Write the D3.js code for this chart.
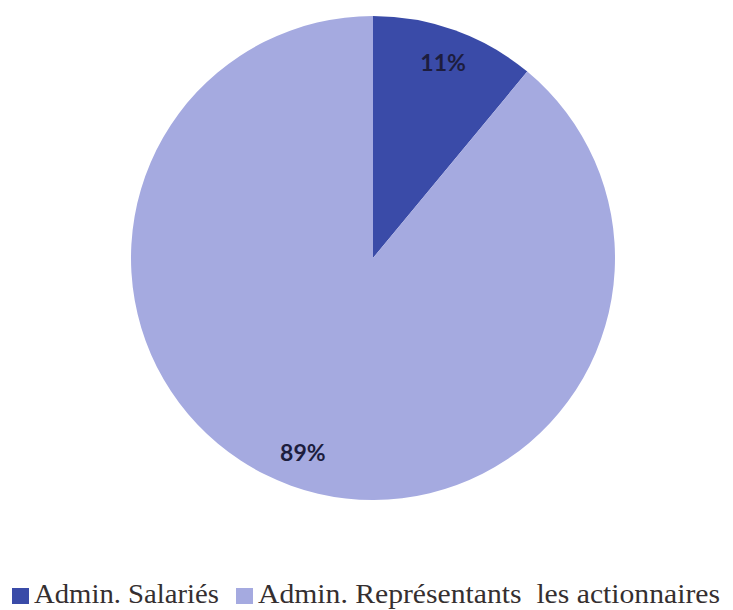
<!DOCTYPE html>
<html>
<head>
<meta charset="utf-8">
<script src="https://cdn.jsdelivr.net/npm/d3@7"></script>
<style>
  body { margin: 0; background: #fff; }
</style>
</head>
<body>
<script>
var svgWidth = 733;
var svgHeight = 610;

var categories = ["Admin. Salariés", "Admin. Représentants  les actionnaires"];
var values = [11, 89];
var labels = ["11%", "89%"];
var colors = ["#3a4ba8", "#a5aae0"];

var cx = 373, cy = 258, radius = 242;

var svg = d3.select("body")
  .append("svg")
  .attr("width", svgWidth)
  .attr("height", svgHeight);

var pieGroup = svg.append("g")
  .attr("transform", `translate(${cx}, ${cy})`);

var pie = d3.pie().sort(null).value(function(d) { return d; });
var arcs = pie(values);

var arc = d3.arc().innerRadius(0).outerRadius(radius);
var labelArc = d3.arc().innerRadius(207).outerRadius(207);

pieGroup.selectAll("path")
  .data(arcs)
  .enter()
  .append("path")
  .attr("d", arc)
  .attr("fill", function(d, i) { return colors[i]; });

pieGroup.selectAll("text")
  .data(arcs)
  .enter()
  .append("text")
  .attr("transform", function(d) {
    var c = labelArc.centroid(d);
    return `translate(${c[0]}, ${c[1]})`;
  })
  .attr("text-anchor", "middle")
  .attr("dy", "0.35em")
  .attr("font-family", "Lato, 'Open Sans', sans-serif")
  .attr("font-weight", "bold")
  .attr("font-size", 23)
  .attr("fill", "#1d1d3e")
  .text(function(d, i) { return labels[i]; });

// legend
var legendX = [12, 236];
var legendW = [185, 462];

var legend = svg.append("g");

legend.selectAll("rect")
  .data(categories)
  .enter()
  .append("rect")
  .attr("x", function(d, i) { return legendX[i]; })
  .attr("y", 588)
  .attr("width", 17)
  .attr("height", 16)
  .attr("fill", function(d, i) { return colors[i]; });

legend.selectAll("text")
  .data(categories)
  .enter()
  .append("text")
  .attr("x", function(d, i) { return legendX[i] + 22; })
  .attr("y", 603)
  .attr("font-family", "'Liberation Serif', serif")
  .attr("font-size", 27)
  .attr("fill", "#352f30")
  .attr("textLength", function(d, i) { return legendW[i]; })
  .attr("lengthAdjust", "spacingAndGlyphs")
  .style("white-space", "pre")
  .text(function(d) { return d; });
</script>
</body>
</html>
